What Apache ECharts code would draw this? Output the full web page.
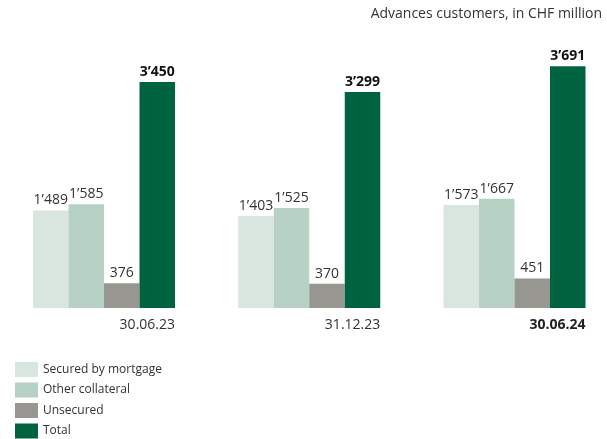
<!DOCTYPE html>
<html><head><meta charset="utf-8">
<script src="https://cdn.jsdelivr.net/npm/echarts@6/dist/echarts.min.js"></script>
<style>html,body{margin:0;padding:0;background:#fff}#c{width:607px;height:439px}</style>
</head><body><div id="c"></div>
<script>
const categories = ['30.06.23', '31.12.23', '30.06.24'];
const securedByMortgage = [1489, 1403, 1573];
const otherCollateral = [1585, 1525, 1667];
const unsecured = [376, 370, 451];
const total = [3450, 3299, 3691];
const seriesNames = ['Secured by mortgage', 'Other collateral', 'Unsecured', 'Total'];
const colors = ['#d9e6e0', '#b7d1c4', '#979691', '#00633f'];

const fmt = v => {
  const s = String(v);
  return s.length > 3 ? s.slice(0, s.length - 3) + '\u2019' + s.slice(-3) : s;
};
const font = '"Open Sans", "Noto Sans", sans-serif';
const chart = echarts.init(document.getElementById('c'), null, {renderer: 'canvas'});
const data = [securedByMortgage, otherCollateral, unsecured, total];
chart.setOption({
  animation: false,
  title: {
    text: 'Advances customers, in CHF million',
    right: 0, top: 2,
    textStyle: {fontFamily: font, fontSize: 14, fontWeight: 'normal', color: '#333'}
  },
  legend: {
    orient: 'vertical', left: 10, top: 357, height: 100,
    itemWidth: 23, itemHeight: 15, itemGap: 5.5,
    icon: 'rect',
    textStyle: {fontFamily: font, fontSize: 12, color: '#333'},
    data: seriesNames
  },
  grid: {left: 104, right: 92.5, top: 46, bottom: 131},
  xAxis: {
    type: 'category', data: categories, boundaryGap: false,
    axisLine: {show: false}, axisTick: {show: false},
    axisLabel: {
      margin: 10, width: 142, align: 'center',
      formatter: (v, i) => i === 2 ? '{b|' + v + '}' : '{n|' + v + '}',
      rich: {
        n: {align: 'right', fontFamily: font, fontSize: 14, color: '#333'},
        b: {align: 'right', fontFamily: font, fontSize: 14, color: '#222', fontWeight: 'bold'}
      }
    }
  },
  yAxis: {type: 'value', min: 0, max: 4000, show: false, splitLine: {show: false}},
  series: seriesNames.map((n, k) => ({
    name: n, type: 'bar', data: data[k],
    barWidth: 35.5, barGap: '0%',
    itemStyle: {color: colors[k]},
    label: {
      show: true, position: 'top', distance: 3,
      formatter: p => fmt(p.value),
      fontFamily: font, fontSize: 14,
      color: k === 3 ? '#111' : '#333',
      fontWeight: k === 3 ? 'bold' : 'normal'
    }
  }))
});
</script></body></html>
